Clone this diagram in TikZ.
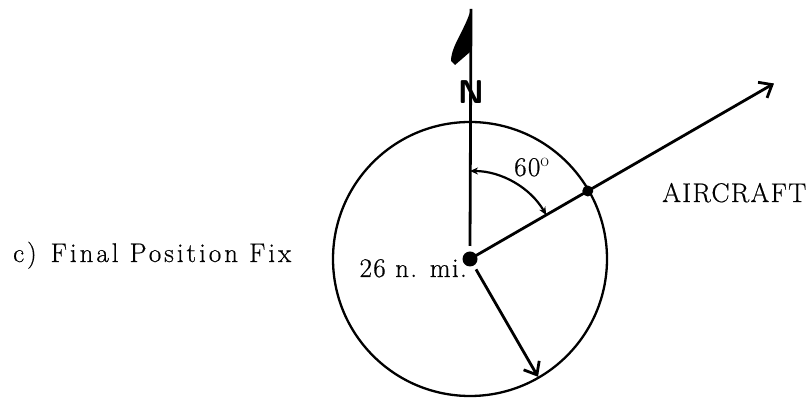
\documentclass[tikz,border=0pt]{standalone}
\usepackage{fontspec}
\newfontfamily\figfont{Latin Modern Roman}[LetterSpace=5, FakeBold=0.6]
\newfontfamily\capfont{Latin Modern Roman}[LetterSpace=11, FakeBold=0.6]
\usetikzlibrary{arrows.meta,calc}
\begin{document}
\begin{tikzpicture}[x=1pt,y=1pt,
    heavy/.style={line width=2.8pt},
    barb/.style={-{Straight Barb[length=11pt, width=18pt, line width=2.8pt]}},
    figlabel/.style={font=\figfont\fontsize{27}{30}\selectfont, inner sep=0pt}]
  \useasboundingbox (0,0) rectangle (811,398);

  % Range circle round the station
  \coordinate (station) at (470,139);
  \draw[line width=2.3pt] (station) circle[radius=137];

  % North reference line with its half barb
  \coordinate (northbase) at ($(station)+(0,13)$);
  \coordinate (northtip) at (471,389);
  \draw[heavy] (northbase) -- (northtip);
  \fill (northtip) .. controls (465,368) and (451,352) .. (451,337)
    -- (455,333) -- (470,346) -- cycle;
  \node[font=\sffamily\bfseries\fontsize{33}{33}\selectfont, inner sep=0pt]
    (northlabel) at (471,306) {N};

  % Bearing line out to the aircraft
  \coordinate (fix) at ($(station)+(30:136)$);
  \coordinate (aircrafttip) at ($(station)+(30:351)$);
  \draw[heavy, barb] (station) -- (aircrafttip);
  \fill (fix) circle[radius=5.5];
  \fill (station) circle[radius=7.5];

  % Bearing angle measured from north
  \draw[line width=2.2pt, {Stealth[length=8pt, width=7pt]}-{Stealth[length=8pt, width=7pt]}]
    ($(station)+(90:88)$) arc[start angle=90, end angle=30, radius=88];
  \node[figlabel, anchor=base west] (anglelabel) at (514,222) {60$^{\mathrm{o}}$};

  % Range radius
  \coordinate (rangestart) at ($(station)+(-60:12)$);
  \coordinate (rangeend) at ($(station)+(-60:136)$);
  \draw[heavy, barb] (rangestart) -- (rangeend);

  % Labels
  \node[figlabel, anchor=base east] (rangelabel) at (467,121) {26 n. mi.};
  \node[figlabel, anchor=base west] (aircraftlabel) at (662,196) {AIRCRAFT};
  \node[figlabel, font=\capfont\fontsize{27}{30}\selectfont, anchor=base west]
    (caption) at (13,136) {c)\hspace{14pt}Final Position Fix};
\end{tikzpicture}
\end{document}
